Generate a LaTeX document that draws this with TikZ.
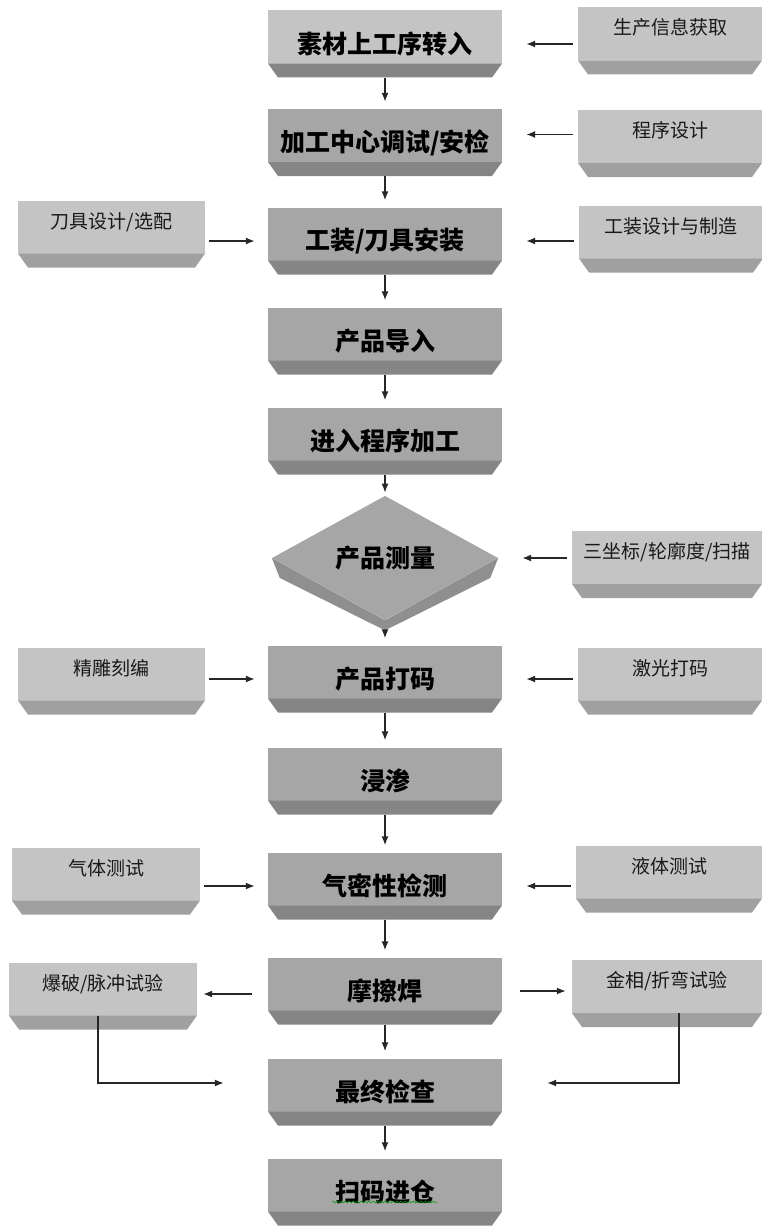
\documentclass[tikz,border=0pt]{standalone}
\usepackage{fontspec}
\newfontfamily\cjk{Noto Sans CJK SC}
\usetikzlibrary{positioning,shapes.geometric,arrows.meta,decorations.pathmorphing}

\definecolor{facemain}{HTML}{A6A6A6}
\definecolor{facelight}{HTML}{C4C4C4}
\definecolor{bevelmain}{HTML}{858585}
\definecolor{bevelside}{HTML}{A0A0A0}
\definecolor{linecol}{HTML}{262626}

% face + bevelled lower rim of a box
\newcommand\bevelfill[2]{%
  \fill[#1] (path picture bounding box.north west) rectangle ([yshift=14pt]path picture bounding box.south east);
  \fill[#2] ([yshift=14pt]path picture bounding box.south west) -- ([yshift=14pt]path picture bounding box.south east)
    -- ([xshift=-10pt]path picture bounding box.south east) -- ([xshift=10pt]path picture bounding box.south west) -- cycle;}

\tikzset{
  stage/.style={minimum width=234pt, minimum height=67pt, inner sep=0pt, fill=white,
    font=\cjk\bfseries\fontsize{25pt}{25pt}\selectfont,
    path picture={\bevelfill{facemain}{bevelmain}}},
  firststage/.style={stage, path picture={\bevelfill{facelight}{bevelmain}}},
  aux/.style={minimum width=184pt, minimum height=67pt, inner sep=0pt, fill=white, text=black!90,
    font=\cjk\fontsize{19pt}{19pt}\selectfont, text height=17pt, text depth=29pt,
    path picture={\bevelfill{facelight}{bevelside}}},
  check/.style={diamond, minimum width=226pt, minimum height=92pt, inner sep=0pt, fill=facemain,
    font=\cjk\bfseries\fontsize{25pt}{25pt}\selectfont},
  flow/.style={draw=linecol, line width=1.4pt, -{Latex[length=9pt,width=7pt]}},
}

\begin{document}
\begin{tikzpicture}[x=1pt,y=-1pt]
    \useasboundingbox (0,0) rectangle (762,1228);

    % Define nodes
    \node[firststage] (m1)  at (385,44)    {素材上工序转入};
    \node[stage]      (m2)  at (385,142.5) {加工中心调试/安检};
    \node[stage]      (m3)  at (385,241)   {工装/刀具安装};
    \node[stage]      (m4)  at (385,341)   {产品导入};
    \node[stage]      (m5)  at (385,441)   {进入程序加工};
    \node[check]      (d)   at (385,558)   {产品测量};
    \node[stage]      (m7)  at (385,679)   {产品打码};
    \node[stage]      (m8)  at (385,781)   {浸渗};
    \node[stage]      (m9)  at (385,886)   {气密性检测};
    \node[stage]      (m10) at (385,991)   {摩擦焊};
    \node[stage]      (m11) at (385,1092)  {最终检查};
    \node[stage]      (m12) at (385,1192)  {扫码进仓};

    \node[aux] (r1)  at (670,41)    {生产信息获取};
    \node[aux] (r2)  at (670,143.5) {程序设计};
    \node[aux] (r3)  at (671,239)   {工装设计与制造};
    \node[aux, minimum width=190pt] (r6)  at (667,564.5) {三坐标/轮廓度/扫描};
    \node[aux] (r7)  at (670,681)   {激光打码};
    \node[aux, minimum width=186pt] (r9)  at (669,879)   {液体测试};
    \node[aux, minimum width=190pt] (r10) at (667,993.5) {金相/折弯试验};

    \node[aux, minimum width=187pt] (l3)  at (111.5,234) {刀具设计/选配};
    \node[aux, minimum width=187pt] (l7)  at (111.5,681) {精雕刻编};
    \node[aux, minimum width=188pt] (l9)  at (106,881)   {气体测试};
    \node[aux, minimum width=188pt] (l10) at (103,996)   {爆破/脉冲试验};

    % rim of the diamond
    \fill[bevelmain!70!facemain] (d.west) -- ([xshift=8pt,yshift=-20pt]d.west) -- ([yshift=-10pt]d.south)
      -- ([xshift=-8pt,yshift=-20pt]d.east) -- (d.east) -- (d.south) -- cycle;
    \draw[green!60!black, decorate, decoration={snake, amplitude=1pt, segment length=4pt}]
      ([xshift=-53pt,yshift=-10pt]m12.center) -- ([xshift=53pt,yshift=-10pt]m12.center);

    % Connect nodes
    \foreach \a/\b in {m1/m2,m2/m3,m3/m4,m4/m5,m7/m8,m8/m9,m9/m10,m10/m11,m11/m12}
      \draw[flow, shorten >=7pt] (\a.south) -- (\b.north);
    \draw[flow, shorten >=3pt] (m5.south) -- (d.north);
    \draw[flow, shorten <=10pt, shorten >=7pt] (d.south) -- (m7.north);

    \foreach \r/\m in {r1/m1,r3/m3,r6/d,r7/m7,r9/m9}
      \draw[flow, shorten <=5pt, shorten >=24pt] (\r.west |- \m.east) -- (\m.east);
    \draw[flow, shorten <=5pt, shorten >=24pt] ([yshift=8pt]m2.east -| r2.west) -- ([yshift=8pt]m2.east);

    \foreach \l/\m in {l3/m3,l7/m7,l9/m9}
      \draw[flow, shorten <=4pt, shorten >=13pt] (\l.east |- \m.west) -- (\m.west);

    \draw[flow, shorten <=16pt, shorten >=6pt] ([yshift=-3pt]m10.west) -- ([yshift=-3pt]m10.west -| l10.east);
    \draw[flow, shorten <=18pt, shorten >=6pt] (m10.east) -- (m10.east -| r10.west);
    \draw[flow, shorten >=44pt] ([xshift=-5pt,yshift=14pt]l10.south) |- ([yshift=9pt]m11.west);
    \draw[flow, shorten >=45pt] ([xshift=12pt,yshift=14pt]r10.south) |- ([yshift=9pt]m11.east);
\end{tikzpicture}
\end{document}
